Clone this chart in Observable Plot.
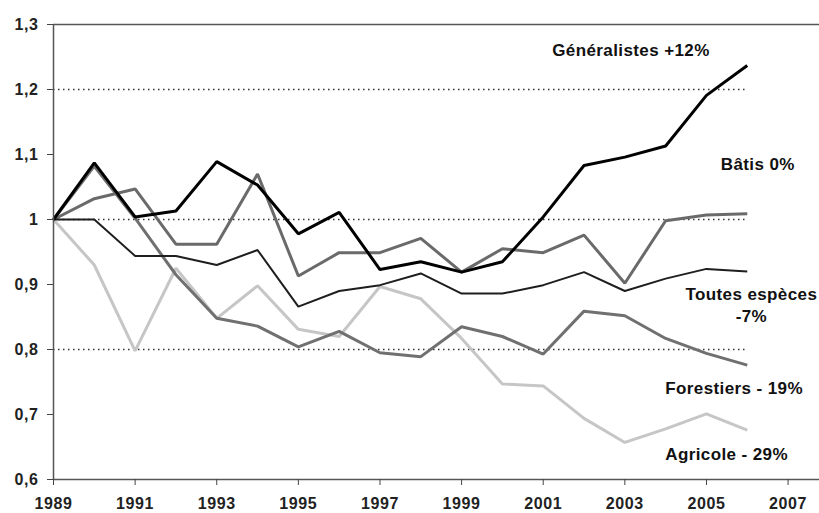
<!DOCTYPE html>
<html><head><meta charset="utf-8">
<script src="https://cdn.jsdelivr.net/npm/d3@7"></script>
<script src="https://cdn.jsdelivr.net/npm/@observablehq/plot@0.6"></script>
<style>
body{margin:0;background:#fff}
g[aria-label="text"] text{letter-spacing:0.4px}
g[aria-label$="tick label"] text{letter-spacing:0.6px}
</style>
</head><body><div id="chart"></div>
<script>
const years = [1989,1990,1991,1992,1993,1994,1995,1996,1997,1998,1999,2000,2001,2002,2003,2004,2005,2006];
const generalistes = [1.0,1.087,1.004,1.013,1.089,1.053,0.978,1.011,0.923,0.935,0.919,0.935,1.004,1.083,1.096,1.113,1.191,1.237];
const batis        = [1.0,1.032,1.047,0.962,0.962,1.07,0.913,0.949,0.949,0.971,0.919,0.955,0.949,0.976,0.902,0.998,1.007,1.009];
const toutes       = [1.0,1.0,0.944,0.944,0.93,0.953,0.866,0.89,0.899,0.917,0.886,0.886,0.899,0.919,0.89,0.909,0.924,0.92];
const forestiers   = [1.0,1.082,1.002,0.915,0.848,0.836,0.804,0.828,0.795,0.789,0.835,0.82,0.793,0.859,0.852,0.817,0.794,0.776];
const agricole     = [1.0,0.93,0.798,0.925,0.848,0.898,0.831,0.82,0.897,0.878,0.817,0.747,0.744,0.694,0.657,0.678,0.701,0.676];

const yTicks = [0.6,0.7,0.8,0.9,1,1.1,1.2,1.3];
const xTicks = [1989,1991,1993,1995,1997,1999,2001,2003,2005,2007];
const gridValues = [1.2,1,0.8];

const labelText  = ["Généralistes +12%","Bâtis 0%","Toutes espèces","-7%","Forestiers - 19%","Agricole - 29%"];
const labelYear  = [2001.22,2005.35,2006.1,2006.1,2003.99,2003.99];
const labelValue = [1.26,1.085,0.885,0.85,0.74,0.6385];
const labelAlign = ["start","start","middle","middle","start","start"];

const seriesList = [
  {name:"Agricole", values:agricole, color:"#c6c6c6", width:3},
  {name:"Forestiers", values:forestiers, color:"#707070", width:3},
  {name:"Bâtis", values:batis, color:"#6a6a6a", width:3},
  {name:"Toutes espèces", values:toutes, color:"#1e1e1e", width:2},
  {name:"Généralistes", values:generalistes, color:"#000000", width:3}
];

const labels = labelText.map((t,i)=>({text:t, year:labelYear[i], value:labelValue[i], anchor:labelAlign[i]}));

const fmt = d => d === 1 ? "1" : d.toFixed(1).replace(".", ",");

const lineMarks = seriesList.map(s => Plot.line(years.map((y,i)=>({year:y, value:s.values[i]})), {
  x:"year", y:"value", stroke:s.color, strokeWidth:s.width, strokeLinejoin:"miter", strokeLinecap:"butt"
}));

const chart = Plot.plot({
  width: 819,
  height: 513,
  marginLeft: 53,
  marginRight: 0,
  marginTop: 24,
  marginBottom: 34,
  style: {fontFamily:"'Liberation Sans', Arial, sans-serif", fontSize:"16px", fontWeight:"bold", color:"#222", background:"#fff"},
  x: {domain:[1989, 2007.77]},
  y: {domain:[0.6, 1.3]},
  marks: [
    Plot.ruleY(gridValues, {x1:1989, x2:2006, stroke:"#333", strokeWidth:1.5, strokeDasharray:"1.5,3.5"}),
    Plot.ruleY([1.3], {stroke:"#555", strokeWidth:1.5}),
    ...lineMarks,
    Plot.ruleX([1989], {stroke:"#555", strokeWidth:1.5}),
    Plot.ruleY([0.6], {stroke:"#555", strokeWidth:1.5}),
    Plot.axisY(yTicks, {tickFormat:fmt, tickSize:6, tickPadding:9, label:null, stroke:"#444"}),
    Plot.axisX(xTicks, {tickFormat:d=>String(d), tickSize:6, tickPadding:12, label:null, stroke:"#444"}),
    ...["start","middle"].map(a => Plot.text(labels.filter(d=>d.anchor===a), {x:"year", y:"value", text:"text", textAnchor:a, fill:"#111", fontSize:17, fontWeight:"bold"}))
  ]
});
document.getElementById("chart").appendChild(chart);
</script>
</body></html>
